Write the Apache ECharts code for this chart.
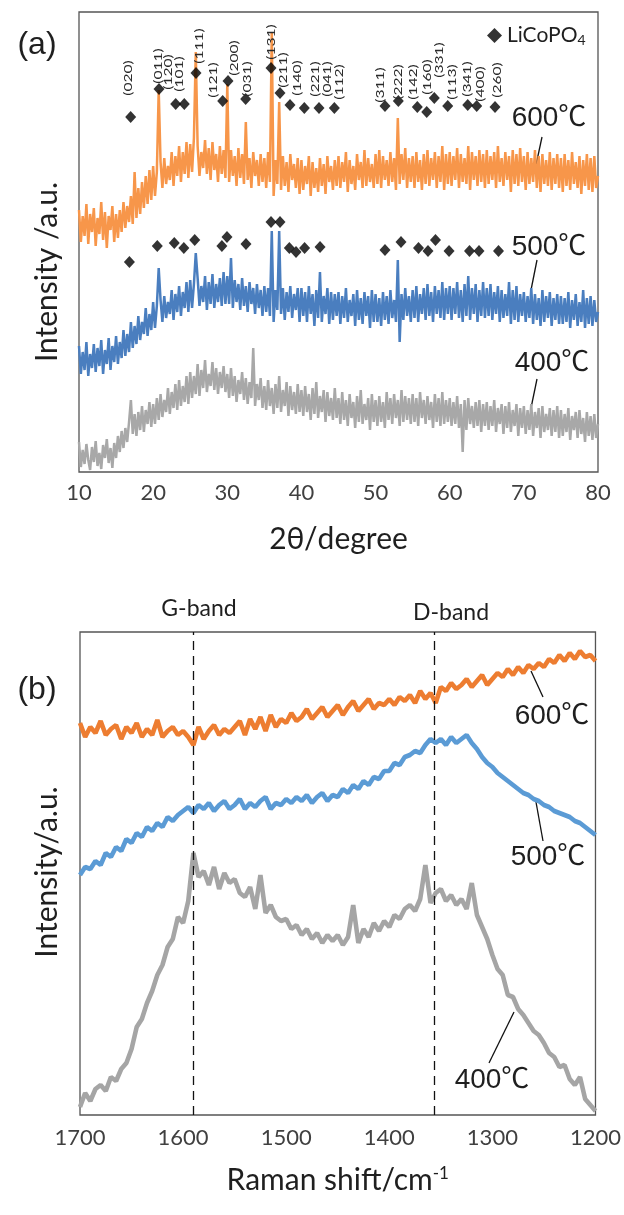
<!DOCTYPE html>
<html><head><meta charset="utf-8">
<script src="https://cdn.jsdelivr.net/npm/echarts@6/dist/echarts.min.js"></script>
<style>html,body{margin:0;padding:0;background:#fff}#c{width:624px;height:1215px}</style>
</head><body><div id="c"></div>
<script>
// ---------------- DATA ----------------
// (a) XRD: 2θ sampled every 0.25° from 10 to 80, intensities (a.u., offset traces)
const twoThetaStart = 10, twoThetaStep = 0.25, twoThetaCount = 281;
const xrd400 = [
30,5,22,8,28,12,2,25,10,31,6,19,3,27,14,33,9,24,4,29,
14,36,20,41,24,44,30,50,72,38,58,36,60,42,66,40,62,48,70,45,
68,48,74,52,78,55,72,60,84,58,80,64,88,62,92,66,86,70,96,68,
100,74,96,78,108,76,102,84,112,80,98,86,110,82,104,78,100,84,106,80,
98,74,104,76,96,70,92,78,100,72,94,68,90,74,124,66,88,72,94,64,
86,62,92,66,84,58,88,64,96,60,82,66,90,56,86,62,80,58,88,60,
82,56,86,60,78,52,84,58,90,54,76,60,82,50,80,56,74,52,84,54,
74,48,80,52,72,46,78,54,70,44,76,50,82,48,68,52,74,42,78,50,
72,46,76,50,70,44,80,52,74,48,78,54,72,46,82,50,76,52,74,48,
78,50,74,46,80,54,72,48,76,52,70,44,78,50,74,46,80,48,72,50,
74,46,70,48,76,44,68,20,72,42,74,48,66,44,70,46,72,40,68,46,
70,42,66,46,72,40,64,48,68,38,66,44,70,40,62,46,68,36,64,44,
66,38,62,42,68,36,60,44,64,34,66,40,58,42,64,36,62,40,66,34,
62,36,58,40,64,32,56,42,60,34,62,38,54,30,60,36,56,32,58,34,
48];
const xrd500 = [
126,98,120,102,130,96,118,104,128,100,124,106,132,98,122,108,134,102,126,110,
136,108,130,114,142,116,138,120,150,124,146,128,156,132,150,138,164,136,158,142,
170,144,166,204,172,150,176,154,170,158,182,152,178,160,186,156,180,164,190,160,
192,164,188,219,194,166,186,170,196,162,190,168,198,164,188,170,194,166,200,168,
196,168,214,164,192,170,188,162,194,166,186,160,190,168,184,158,188,164,182,156,
186,160,184,156,241,150,182,162,241,158,184,152,180,160,186,154,178,162,184,150,
184,156,180,150,186,158,178,146,182,154,200,150,176,158,184,148,180,152,178,156,
180,148,176,154,184,150,172,156,178,146,182,152,174,148,180,156,176,144,182,150,
178,150,174,146,180,152,176,148,182,154,172,150,212,130,178,152,184,156,176,150,
182,154,186,150,178,158,184,152,188,156,180,150,186,158,182,154,190,152,184,158,
186,152,184,158,190,154,182,150,188,156,196,152,184,158,188,150,182,156,190,154,
184,156,188,152,180,158,186,150,182,154,178,156,190,148,182,152,186,150,178,156,
180,150,176,154,184,148,178,152,174,146,182,150,176,154,180,146,174,152,178,148,
176,148,174,150,180,144,172,152,178,146,170,150,182,144,174,148,176,146,172,150,
160];
const xrd600 = [
262,230,256,236,268,228,258,240,264,226,254,238,270,232,260,224,256,242,266,230,
258,234,262,240,270,244,266,250,276,248,300,254,284,258,290,264,296,268,302,272,
306,276,300,382,310,284,314,288,306,292,320,286,316,296,326,290,320,298,330,294,
328,300,334,420,326,296,320,304,332,298,324,292,330,302,318,290,326,298,322,294,
388,290,322,296,316,286,324,294,318,288,350,292,314,284,320,296,312,286,318,290,
314,284,320,290,440,276,312,288,370,282,316,286,310,280,318,292,308,284,314,278,
312,282,306,288,316,276,310,284,304,280,314,286,308,278,316,290,306,282,312,286,
316,284,310,290,320,280,312,288,306,282,318,292,310,284,322,286,314,290,308,284,
318,288,322,284,316,292,312,286,320,290,314,282,354,288,318,292,324,284,314,290,
316,284,320,290,312,282,318,288,322,286,314,292,320,284,316,290,326,282,318,288,
320,286,316,292,324,284,318,290,314,288,326,282,320,292,316,286,322,290,318,284,
322,288,316,292,320,284,326,290,314,286,320,292,316,280,322,288,318,286,324,290,
316,282,320,288,314,290,322,284,316,280,318,288,312,286,320,282,314,288,318,284,
314,280,318,286,312,282,320,288,310,284,316,278,312,286,318,282,314,280,316,284,
296];
// LiCoPO4 reflections
const hkl = ['(020)','(011)','(120)','(101)','(111)','(121)','(200)','(031)','(131)','(211)','(140)','(221)','(041)','(112)',
             '(311)','(222)','(142)','(160)','(331)','(113)','(341)','(400)','(260)'];
const peak600_2theta = [16.97,20.79,23.04,24.20,25.78,29.38,30.10,32.48,35.90,37.11,38.46,40.39,42.37,44.44,51.27,53.07,55.63,56.90,57.92,59.73,62.43,63.64,66.11];
const peak600_int    = [355,383,368,368,399,371,391,373,404,379,367,364,364,364,366,371,365,360,374,366,367,366,365];
const peak500_2theta = [16.80,20.56,22.85,24.14,25.61,29.27,29.96,32.52,35.90,37.11,38.37,39.27,40.43,42.51,51.27,53.43,55.79,57.07,58.08,59.91,62.67,63.95,66.58];
const peak500_int    = [210,226,229,224,232,226,235,228,250,250,224,220,224,225,222,230,224,221,232,221,221,221,221];
const xrdTicks = [10,20,30,40,50,60,70,80];

// (b) Raman: shift sampled every 5 cm-1 from 1700 down to 1200
const ramanStart = 1700, ramanStep = -5, ramanCount = 101;
const raman600 = [
392,378,388,382,394,380,386,390,376,388,
382,392,378,386,380,395,378,384,388,380,
384,378,370,388,376,384,390,380,386,382,
388,394,380,396,386,398,384,400,388,396,
392,402,394,398,406,396,402,408,398,404,
410,400,408,414,404,410,416,406,412,410,
416,410,418,414,420,412,424,416,422,412,
428,424,432,426,430,436,428,434,440,430,
436,442,438,446,440,448,442,450,446,452,
448,456,452,460,454,462,456,464,458,460,
454];
const raman500 = [
240,248,246,254,250,262,258,268,264,276,
272,282,278,288,284,292,288,298,294,300,
304,308,302,310,306,312,304,310,314,306,
310,316,306,312,308,314,318,306,312,310,
316,312,318,314,320,312,318,322,314,320,
318,326,322,330,326,334,330,338,336,344,
344,352,350,358,360,364,362,370,376,372,
376,370,378,372,376,380,372,366,358,352,
348,342,338,334,330,326,322,320,316,314,
310,308,304,302,300,298,294,292,288,284,
280];
const raman400 = [
8,22,14,26,30,24,38,34,46,52,
66,88,96,112,124,140,150,168,176,198,
192,214,262,238,244,230,248,226,242,232,
236,222,218,228,206,240,202,210,198,194,
196,186,190,180,186,176,182,172,180,174,
180,170,178,210,172,186,178,192,184,194,
188,200,196,206,210,204,216,250,212,222,
226,214,220,210,216,206,232,200,188,176,
160,146,140,120,118,106,100,92,84,80,
72,62,58,48,50,36,30,38,16,10,
4];
const bandShift = [1590, 1356];
const bandNames = ['G-band', 'D-band'];
const ramanTicks = [1700,1600,1500,1400,1300,1200];

// ---------------- BUILD ----------------
const twoTheta = Array.from({length: twoThetaCount}, (_, i) => twoThetaStart + i * twoThetaStep);
const shift = Array.from({length: ramanCount}, (_, i) => ramanStart + i * ramanStep);
const pair = (xs, ys) => ys.map((v, i) => [xs[i], v]);

// layout of the rotated hkl labels (in data units of panel a)
const hklLabelPos = [[16.66,394],[20.70,406],[22.05,400],[23.49,398],[26.14,426],[28.12,392],[30.91,414],[32.62,393],
  [35.86,430],[37.56,402],[39.36,394],[41.83,393],[43.41,393],[45.07,390],[50.60,387],[53.07,390],[55.09,390],
  [56.90,395],[58.56,412],[60.27,390],[62.37,393],[64.09,388],[66.33,392]];

const F = 'Lato, "Open Sans", sans-serif';
const FA = '"Liberation Sans", Arial, "Noto Sans CJK JP", sans-serif';
const TXT = '#1f1f1f';

function gText(x, y, text, size, font, rot) {
  return {type: 'text', x: x, y: y, rotation: rot || 0, silent: true,
    style: {text: text, font: size + 'px ' + font, fill: TXT, align: 'center', verticalAlign: 'middle',
            textAlign: 'center', textVerticalAlign: 'middle'}};
}
function gLine(x1, y1, x2, y2) {
  return {type: 'line', silent: true, shape: {x1, y1, x2, y2}, style: {stroke: '#111', lineWidth: 1.3}};
}
const tickFmt = v => String(v);
const xrdLine = c => ({color: c, width: 2.5, join: 'bevel'});

const chart = echarts.init(document.getElementById('c'));
const option = {
  animation: false,
  backgroundColor: '#fff',
  grid: [
    {left: 79, top: 12, width: 519, height: 460, show: true, borderColor: '#555', borderWidth: 1.3, backgroundColor: 'transparent'},
    {left: 80, top: 632, width: 518, height: 483, show: true, borderColor: '#555', borderWidth: 1.3, backgroundColor: 'transparent'}
  ],
  xAxis: [
    {gridIndex: 0, type: 'value', min: xrdTicks[0], max: xrdTicks[xrdTicks.length - 1], interval: 10,
     axisLine: {show: false}, axisTick: {show: false}, splitLine: {show: false},
     axisLabel: {fontSize: 22, fontFamily: F, color: '#404040', margin: 10, formatter: tickFmt},
     name: '2θ/degree', nameLocation: 'middle', nameGap: 52,
     nameTextStyle: {fontSize: 30, fontFamily: F, color: TXT}},
    {gridIndex: 1, type: 'value', min: ramanTicks[ramanTicks.length - 1], max: ramanTicks[0], interval: 100, inverse: true,
     axisLine: {show: false}, axisTick: {show: false}, splitLine: {show: false},
     axisLabel: {fontSize: 22, fontFamily: F, color: '#404040', margin: 12, formatter: tickFmt},
     name: 'Raman shift/cm{sup|-1}', nameLocation: 'middle', nameGap: 50,
     nameTextStyle: {fontSize: 30, fontFamily: F, color: TXT,
       rich: {sup: {fontSize: 17, fontFamily: F, color: TXT, verticalAlign: 'top', padding: [0, 0, 14, 0]}}}}
  ],
  yAxis: [
    {gridIndex: 0, type: 'value', min: 0, max: 460, show: true,
     axisLine: {show: false}, axisTick: {show: false}, axisLabel: {show: false}, splitLine: {show: false}},
    {gridIndex: 1, type: 'value', min: 0, max: 483, show: true,
     axisLine: {show: false}, axisTick: {show: false}, axisLabel: {show: false}, splitLine: {show: false}}
  ],
  legend: {
    left: 482, top: 20, itemWidth: 15, itemHeight: 15, itemGap: 0,
    data: [{name: 'LiCoPO4', icon: 'diamond'}],
    formatter: () => 'LiCoPO{s|4}',
    textStyle: {fontSize: 21, fontFamily: F, color: TXT,
      rich: {s: {fontSize: 14, fontFamily: F, color: TXT, verticalAlign: 'bottom', padding: [10, 0, 0, 0]}}}
  },
  series: [
    {name: '400℃ XRD', type: 'line', xAxisIndex: 0, yAxisIndex: 0, data: pair(twoTheta, xrd400),
     showSymbol: false, symbol: 'none', lineStyle: xrdLine('#A8A8A8'), itemStyle: {color: '#A8A8A8'}, silent: true},
    {name: '500℃ XRD', type: 'line', xAxisIndex: 0, yAxisIndex: 0, data: pair(twoTheta, xrd500),
     showSymbol: false, symbol: 'none', lineStyle: xrdLine('#4A7EBF'), itemStyle: {color: '#4A7EBF'}, silent: true},
    {name: '600℃ XRD', type: 'line', xAxisIndex: 0, yAxisIndex: 0, data: pair(twoTheta, xrd600),
     showSymbol: false, symbol: 'none', lineStyle: xrdLine('#F7964A'), itemStyle: {color: '#F7964A'}, silent: true},
    {name: 'LiCoPO4', type: 'scatter', xAxisIndex: 0, yAxisIndex: 0, data: pair(peak600_2theta, peak600_int),
     symbol: 'diamond', symbolSize: [11, 12], itemStyle: {color: '#000'}, z: 5},
    {name: 'LiCoPO4', type: 'scatter', xAxisIndex: 0, yAxisIndex: 0, data: pair(peak500_2theta, peak500_int),
     symbol: 'diamond', symbolSize: [11, 12], itemStyle: {color: '#000'}, z: 5},
    {name: 'hkl', type: 'custom', xAxisIndex: 0, yAxisIndex: 0, z: 6, silent: true,
     data: hklLabelPos.map((p, i) => [p[0], p[1], i]),
     renderItem: (params, api) => {
       const p = api.coord([api.value(0), api.value(1)]);
       return {type: 'text', x: p[0], y: p[1], rotation: Math.PI / 2, scaleX: 1.3,
         style: {text: hkl[params.dataIndex], font: '12px ' + F, fill: '#2a2a2a',
                 align: 'center', verticalAlign: 'middle', textAlign: 'center', textVerticalAlign: 'middle'}};
     }},
    {name: '400℃ Raman', type: 'line', xAxisIndex: 1, yAxisIndex: 1, data: pair(shift, raman400),
     showSymbol: false, symbol: 'none', lineStyle: {color: '#A5A5A5', width: 4.6}, silent: true,
     markLine: {silent: true, symbol: 'none', label: {show: false},
       lineStyle: {color: '#111', type: [9, 6], width: 1.3},
       data: bandShift.map(v => ({xAxis: v}))}},
    {name: '500℃ Raman', type: 'line', xAxisIndex: 1, yAxisIndex: 1, data: pair(shift, raman500),
     showSymbol: false, symbol: 'none', lineStyle: {color: '#5B9BD5', width: 4.6}, silent: true},
    {name: '600℃ Raman', type: 'line', xAxisIndex: 1, yAxisIndex: 1, data: pair(shift, raman600),
     showSymbol: false, symbol: 'none', lineStyle: {color: '#ED7D31', width: 4.6}, silent: true}
  ],
  graphic: [
    gText(37, 45, '(a)', 32, FA),
    gText(37, 690, '(b)', 32, FA),
    gText(47, 272, 'Intensity /a.u.', 30, F, Math.PI / 2),
    gText(47, 872, 'Intensity/a.u.', 30, F, Math.PI / 2),
    gText(549, 118, '600℃', 28, FA), gLine(542, 137, 536, 165),
    gText(549, 247, '500℃', 28, FA), gLine(537, 260, 531, 290),
    gText(552, 363, '400℃', 28, FA), gLine(537, 379, 531, 408),
    gText(552, 716, '600℃', 28, FA), gLine(531, 671, 543, 697),
    gText(548, 857, '500℃', 28, FA), gLine(536, 802, 543, 841),
    gText(492, 1080, '400℃', 28, FA), gLine(514, 1012, 489, 1063),
    gText(199, 609, bandNames[0], 23, F),
    gText(451, 613, bandNames[1], 23, F)
  ]
};
chart.setOption(option);
</script>
</body></html>
